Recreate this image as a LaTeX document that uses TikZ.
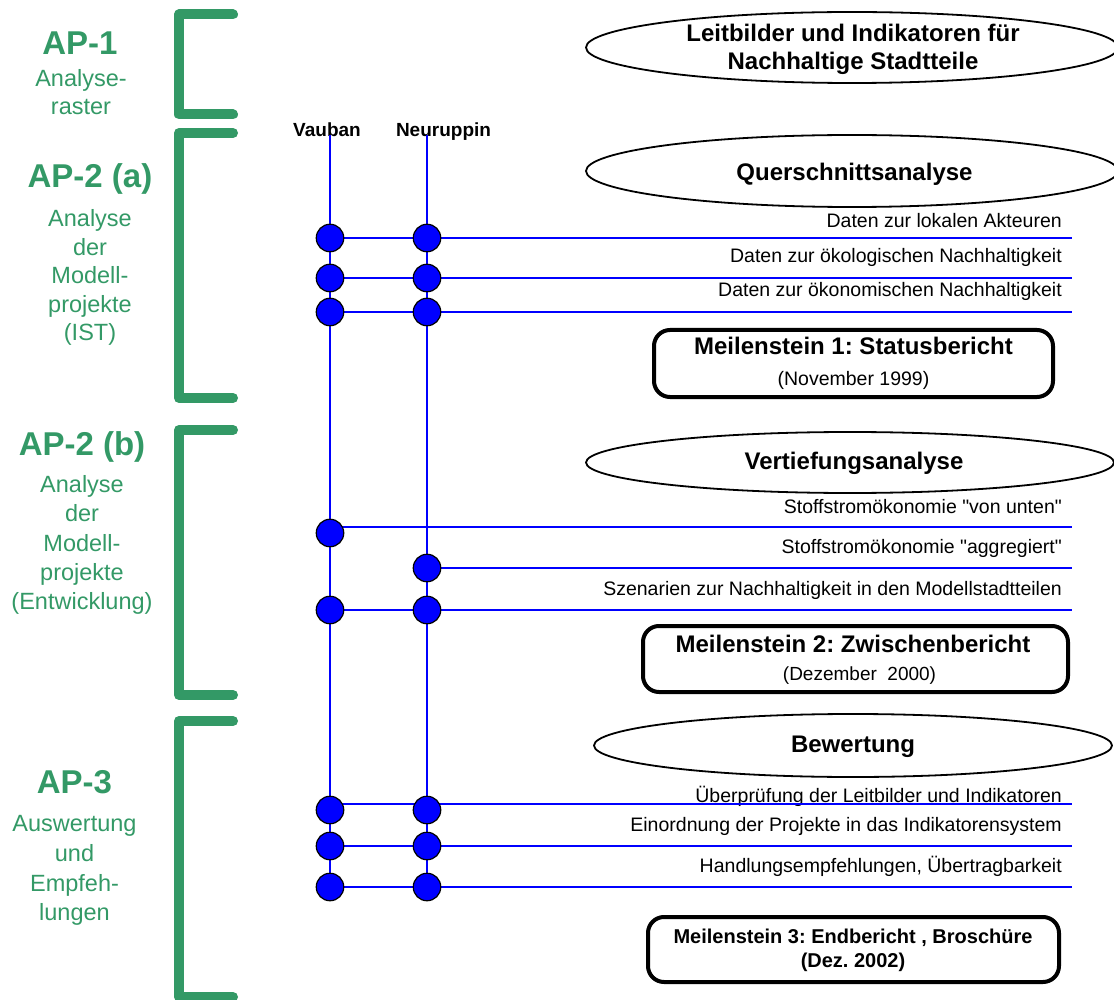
\documentclass[tikz,border=0pt]{standalone}
\usepackage{fontspec}
\setmainfont{Liberation Sans}[Ligatures=TeXOff]
\usetikzlibrary{shapes.geometric}
\definecolor{apgreen}{RGB}{51,153,102}
\definecolor{lineblue}{RGB}{0,0,255}
\frenchspacing
\begin{document}
\begin{tikzpicture}[x=1pt,y=-1pt,
  bracket/.style={draw=apgreen,line width=10pt,line cap=round,line join=round},
  aptitle/.style={text=apgreen,font=\fontsize{33}{36}\selectfont\bfseries,anchor=base,inner sep=0},
  apsub/.style={text=apgreen,font=\fontsize{23.5}{28}\selectfont,anchor=base,inner sep=0},
  proj/.style={font=\fontsize{19}{22}\selectfont\bfseries,anchor=base,inner sep=0},
  dot/.style={circle,draw=black,line width=1.2pt,fill=lineblue,minimum size=27.5pt,inner sep=0},
  conn/.style={draw=lineblue,line width=1.8pt},
  rowlabel/.style={font=\fontsize{19.5}{22}\selectfont,anchor=base east,inner sep=0},
  phase/.style={ellipse,draw=black,line width=1.8pt,inner sep=0},
  phasetext/.style={font=\fontsize{24}{28}\selectfont\bfseries,anchor=base,inner sep=0},
  msbox/.style={draw=black,line width=4pt,rounded corners=16pt,inner sep=0},
  mstitle/.style={font=\fontsize{24}{28}\selectfont\bfseries,anchor=base,inner sep=0},
  msdate/.style={font=\fontsize{19.5}{22}\selectfont,anchor=base,inner sep=0},
]
\useasboundingbox (0,0) rectangle (1114,1000);

% green brackets
\draw[bracket] (233,14.5) -- (179,14.5) -- (179,114.5) -- (233,114.5);
\draw[bracket] (233,133) -- (179,133) -- (179,398) -- (233,398);
\draw[bracket] (233,430) -- (179,430) -- (179,695) -- (233,695);
\draw[bracket] (233,721) -- (179,721) -- (179,997) -- (233,997);

% left labels
\node[aptitle] (ap1) at (80,55) {AP-1};
\node[apsub] (ap1a) at (81,87) {Analyse-};
\node[apsub] (ap1b) at (81,115) {raster};

\node[aptitle] (ap2a) at (90,188) {AP-2 (a)};
\node[apsub] (ap2a1) at (90,227) {Analyse};
\node[apsub] (ap2a2) at (90,255.5) {der};
\node[apsub] (ap2a3) at (90,284) {Modell-};
\node[apsub] (ap2a4) at (90,312.5) {projekte};
\node[apsub] (ap2a5) at (90,341) {(IST)};

\node[aptitle] (ap2b) at (82,455) {AP-2 (b)};
\node[apsub] (ap2b1) at (82,492) {Analyse};
\node[apsub] (ap2b2) at (82,521.5) {der};
\node[apsub] (ap2b3) at (82,551) {Modell-};
\node[apsub] (ap2b4) at (82,580) {projekte};
\node[apsub] (ap2b5) at (82,609) {(Entwicklung)};

\node[aptitle] (ap3) at (74.5,793) {AP-3};
\node[apsub] (ap31) at (74.5,831) {Auswertung};
\node[apsub] (ap32) at (74.5,861) {und};
\node[apsub] (ap33) at (74.5,891) {Empfeh-};
\node[apsub] (ap34) at (74.5,920) {lungen};

% ellipses
\node[phase,minimum width=532pt,minimum height=71pt] (e1) at (852,47.5) {};
\node[phasetext] (e1a) at (853,42) {Leitbilder und Indikatoren für};
\node[phasetext] (e1b) at (853,70) {Nachhaltige Stadtteile};
\node[phase,minimum width=532pt,minimum height=72pt] (e2) at (852,171) {};
\node[phasetext] (e2a) at (854.5,181) {Querschnittsanalyse};
\node[phase,minimum width=528pt,minimum height=61pt] (e3) at (850,462.5) {};
\node[phasetext] (e3a) at (854,469) {Vertiefungsanalyse};
\node[phase,minimum width=518pt,minimum height=63pt] (e4) at (853,745.5) {};
\node[phasetext] (e4a) at (853,752) {Bewertung};

% project labels
\node[proj] (vauban) at (327,137) {Vauban};
\node[proj] (neur) at (443.5,137) {Neuruppin};

% coordinates
\coordinate (vtop) at (330,135);
\coordinate (ntop) at (427,135);
\coordinate (r1) at (1072,238);
\coordinate (r2) at (1072,278);
\coordinate (r3) at (1072,312);
\coordinate (r4) at (1072,527);
\coordinate (r5) at (1072,568);
\coordinate (r6) at (1072,610);
\coordinate (r7) at (1072,804);
\coordinate (r8) at (1072,846);
\coordinate (r9) at (1072,887);
\coordinate (h4) at (330,527);
\coordinate (h7) at (330,804);

% row labels
\node[rowlabel] (l1) at (1062,228) {Daten zur lokalen Akteuren};
\node[rowlabel] (l2) at (1062,263) {Daten zur ökologischen Nachhaltigkeit};
\node[rowlabel] (l3) at (1062,297) {Daten zur ökonomischen Nachhaltigkeit};
\node[rowlabel] (l4) at (1062,513) {Stoffstromökonomie "von unten"};
\node[rowlabel] (l5) at (1062,553) {Stoffstromökonomie "aggregiert"};
\node[rowlabel] (l6) at (1062,595) {Szenarien zur Nachhaltigkeit in den Modellstadtteilen};
\node[rowlabel] (l7) at (1062,802) {Überprüfung der Leitbilder und Indikatoren};
\node[rowlabel] (l8) at (1062,831) {Einordnung der Projekte in das Indikatorensystem};
\node[rowlabel] (l9) at (1062,872) {Handlungsempfehlungen, Übertragbarkeit};

% dot positions
\path
  (330,238) coordinate (va1) (427,238) coordinate (na1)
  (330,278) coordinate (va2) (427,278) coordinate (na2)
  (330,312) coordinate (va3) (427,312) coordinate (na3)
  (330,533) coordinate (vb1)
  (427,568) coordinate (nb2)
  (330,610) coordinate (vb3) (427,610) coordinate (nb3)
  (330,810) coordinate (vc1) (427,810) coordinate (nc1)
  (330,846) coordinate (vc2) (427,846) coordinate (nc2)
  (330,887) coordinate (vc3) (427,887) coordinate (nc3);

% connectors
\draw[conn] (vtop) -- (vc3);
\draw[conn] (ntop) -- (nc3);
\draw[conn] (va1) -- (r1);
\draw[conn] (va2) -- (r2);
\draw[conn] (va3) -- (r3);
\draw[conn] (h4) -- (r4);
\draw[conn] (nb2) -- (r5);
\draw[conn] (vb3) -- (r6);
\draw[conn] (h7) -- (r7);
\draw[conn] (vc2) -- (r8);
\draw[conn] (vc3) -- (r9);

% dots
\foreach \p in {va1,na1,va2,na2,va3,na3,vb1,nb2,vb3,nb3,vc1,nc1,vc2,nc2,vc3,nc3}
  \node[dot] (d\p) at (\p) {};

% milestones
\node[msbox,minimum width=399pt,minimum height=67pt] (m1) at (853.5,363.5) {};
\node[mstitle] (m1a) at (853.5,355) {Meilenstein 1: Statusbericht};
\node[msdate] (m1b) at (853.5,385) {(November 1999)};

\node[msbox,minimum width=425pt,minimum height=66pt] (m2) at (855.5,659) {};
\node[mstitle] (m2a) at (853,652) {Meilenstein 2: Zwischenbericht};
\node[msdate,font=\fontsize{19}{22}\selectfont] (m2b) at (859.5,680) {(Dezember\ \ 2000)};

\node[msbox,minimum width=411pt,minimum height=65pt] (m3) at (853.5,949.5) {};
\node[mstitle,font=\fontsize{20}{24}\selectfont\bfseries] (m3a) at (853,943) {Meilenstein 3: Endbericht , Broschüre};
\node[mstitle,font=\fontsize{20}{24}\selectfont\bfseries] (m3b) at (853,967) {(Dez. 2002)};
\end{tikzpicture}
\end{document}
